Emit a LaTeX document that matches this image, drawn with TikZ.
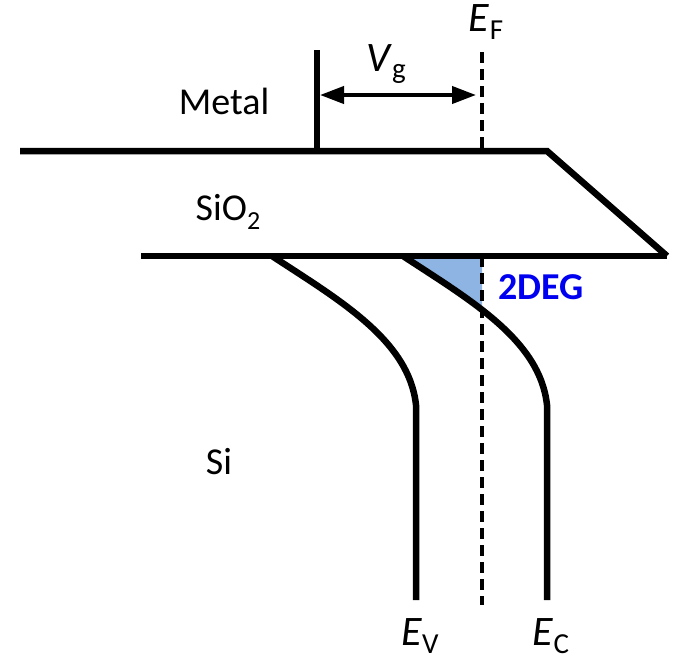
\documentclass[tikz,border=0pt]{standalone}
\usepackage{fontspec}
\setmainfont{Carlito}
\usepackage{xcolor}
\usetikzlibrary{arrows.meta}

\definecolor{gasblue}{RGB}{141,180,226}
\definecolor{gastext}{RGB}{0,0,240}
\newcommand{\lowtxt}[1]{\raisebox{-0.22em}{\fontsize{26}{28}\selectfont #1}}
\newcommand{\lvltxt}[2]{{\fontsize{42}{48}\selectfont\textit{#1}}\raisebox{-0.2em}{\fontsize{29}{30}\selectfont #2}}

\begin{document}
\begin{tikzpicture}[
    x=1pt, y=-1pt,
    every node/.style={inner sep=0pt, font=\fontsize{38}{46}\selectfont},
    band/.style={line width=6.5pt},
    fermi/.style={line width=4pt, dash pattern=on 11pt off 6pt},
    bias/.style={line width=4pt, {Triangle[length=24pt,width=17pt]}-{Triangle[length=24pt,width=17pt]}},
  ]
  \useasboundingbox (0,0) rectangle (677,665);

  % oxide corners
  \coordinate (ml) at (20,151);
  \coordinate (mr) at (547,151);
  \coordinate (ol) at (141,256);
  \coordinate (or) at (667,256);
  \coordinate (gt) at (317,50);
  \coordinate (gb) at (317,151);

  % Fermi level
  \coordinate (ft) at (482,52);
  \coordinate (fm) at (482,151);
  \coordinate (fo) at (482,256);
  \coordinate (fb) at (482,605);

  % band edges
  \coordinate (vs) at (272,256);
  \coordinate (vk) at (416,405);
  \coordinate (ve) at (416,600);
  \coordinate (cs) at (403,256);
  \coordinate (ck) at (547,405);
  \coordinate (ce) at (547,600);

  \coordinate (al) at (320,95);
  \coordinate (ar) at (476,95);

  \begin{scope}
    \clip (0,256) rectangle (482,400);
    \fill[gasblue] (cs) .. controls (470,300) and (540,340) .. (ck) -- (700,405) -- (700,256) -- cycle;
  \end{scope}

  \draw[band] (ml) -- (mr) -- (or);
  \draw[band] (ol) -- (or);
  \draw[band] (gt) -- (gb);
  \draw[bias] (al) -- (ar);

  \draw[fermi] (ft) -- (fm);
  \draw[fermi] (fo) -- (fb);

  \draw[band] (vs) .. controls (339,300) and (409,340) .. (vk) -- (ve);
  \draw[band] (cs) .. controls (470,300) and (540,340) .. (ck) -- (ce);

  \node (metal) at (224,101) {Metal};
  \node (oxide) at (228,212) {SiO\lowtxt{2}};
  \node (si) at (219,462) {Si};
  \node (vg) at (386,64) {\lvltxt{V}{g}};
  \node (ef) at (486,22) {\lvltxt{E}{F}};
  \node (ev) at (420,636) {\lvltxt{E}{V}};
  \node (ec) at (551,636) {\lvltxt{E}{C}};
  \node[text=gastext, font=\fontsize{38}{46}\selectfont\bfseries] (deg) at (541,287) {2DEG};

\end{tikzpicture}
\end{document}
